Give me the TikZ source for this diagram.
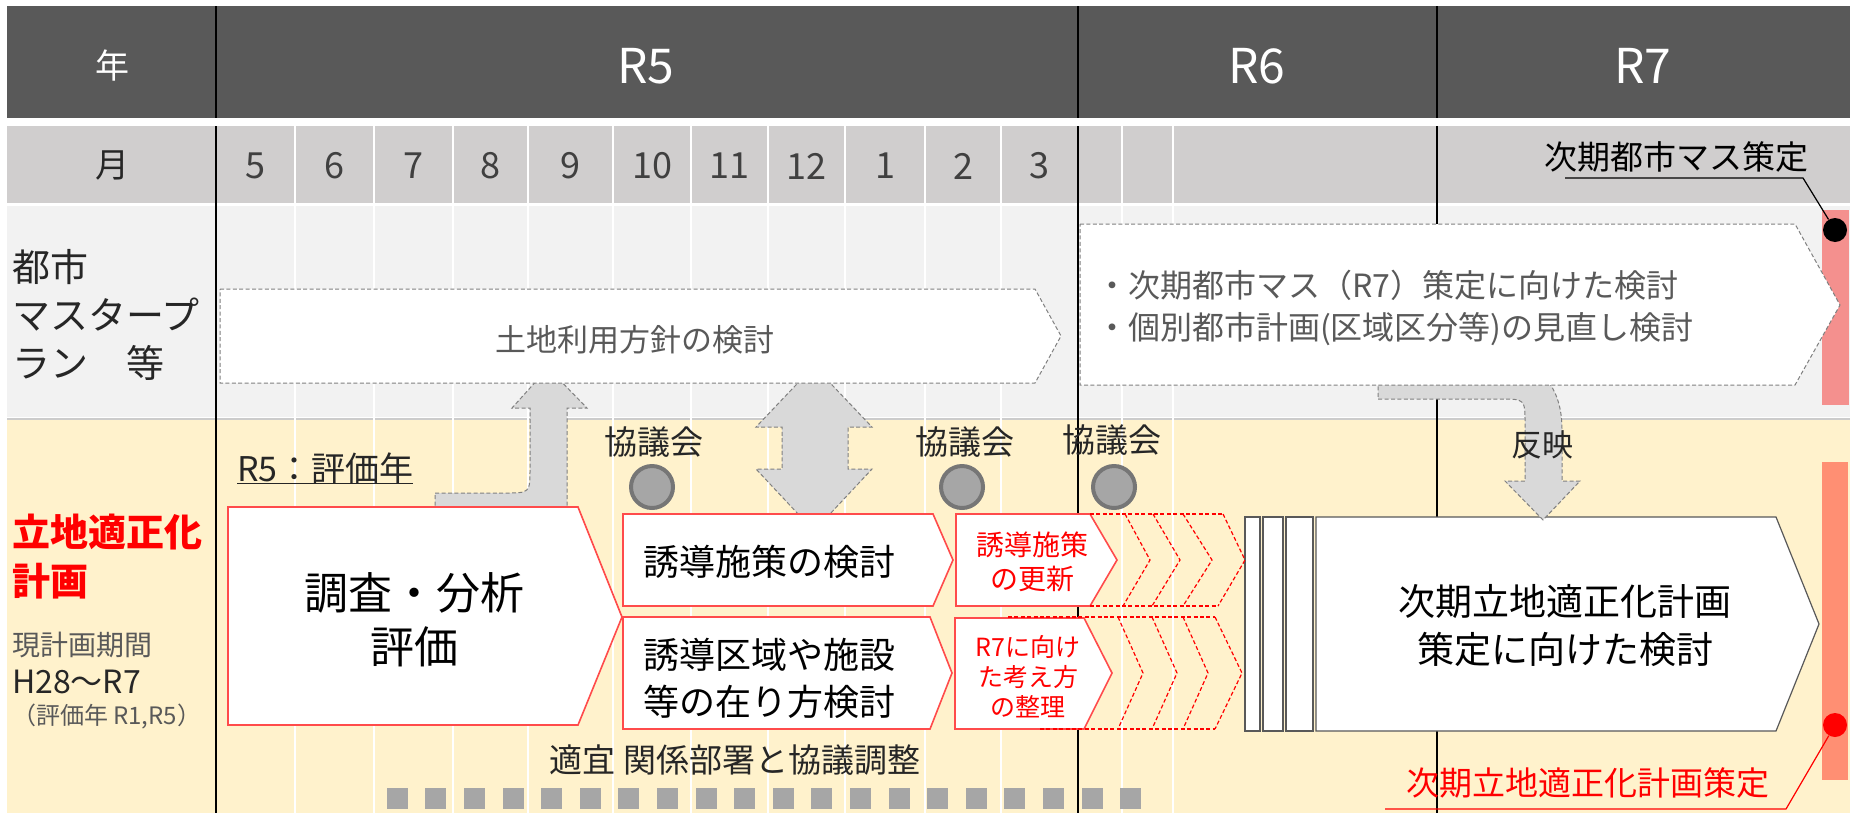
\documentclass[tikz,border=0pt]{standalone}
\usepackage{fontspec}
\setmainfont{Noto Sans CJK JP}
\definecolor{hdr}{HTML}{595959}
\definecolor{mon}{HTML}{D0CECE}
\definecolor{rowa}{HTML}{F2F2F2}
\definecolor{rowb}{HTML}{FFF2CC}
\definecolor{redline}{HTML}{FF4B4B}
\definecolor{arrowfill}{HTML}{D9D9D9}
\definecolor{arrowline}{HTML}{808080}
\definecolor{pinkbar}{HTML}{F4908E}
\definecolor{salmon}{HTML}{FF8F73}
\definecolor{txt}{HTML}{262626}
\definecolor{txtgray}{HTML}{595959}
\definecolor{sqgray}{HTML}{A6A6A6}
\definecolor{mtgfill}{HTML}{A6A6A6}
\definecolor{mtgline}{HTML}{767676}
\newcommand\fsz[2]{\fontsize{#1pt}{#2pt}\selectfont}
\begin{document}
\begin{tikzpicture}[x=0.5pt,y=-0.5pt,
  lbl/.style={inner sep=0pt, outer sep=0pt, text=txt},
  garrow/.style={fill=arrowfill, draw=arrowline, line width=0.5pt, dash pattern=on 2pt off 1.2pt},
  dbox/.style={fill=white, draw=arrowline, line width=0.5pt, dash pattern=on 2pt off 1.2pt},
  rbox/.style={fill=white, draw=redline, line width=0.8pt, line join=miter},
  rdash/.style={draw=red, line width=0.6pt, dash pattern=on 2pt off 1.2pt},
  gbox/.style={fill=white, draw=hdr, line width=0.6pt},
  mtg/.style={circle, fill=mtgfill, draw=mtgline, line width=2pt, minimum size=21pt, inner sep=0pt},
  callout/.style={circle, minimum size=12pt, inner sep=0pt},
  sep/.style={white, line width=1pt},
  year/.style={black, line width=1pt}
]
\useasboundingbox (0,0) rectangle (1855,815);
\fill[white] (0,0) rectangle (1855,815);
% rows
\fill[hdr] (7,6) rectangle (1850,118);
\fill[mon] (7,126) rectangle (1850,203);
\fill[rowa] (7,206) rectangle (1850,417);
\fill[rowb] (7,420) rectangle (1850,813);
\draw[black!20, line width=1pt] (7,418.5) -- (1850,418.5);
% month separators
\foreach \x in {295,374,452.5,528,613,691,768,845,925,1001,1122,1173}
  \draw[sep] (\x,126) -- (\x,813);
% year lines
\foreach \x in {216,1078,1437}{
  \draw[year] (\x,6) -- (\x,118);
  \draw[year] (\x,126) -- (\x,813);
}
% header texts
\node[lbl, text=white, font=\fsz{17}{20}] (hyear) at (112,66) {年};
\node[lbl, text=white, font=\fsz{24}{28}] (yr5) at (646,66) {R5};
\node[lbl, text=white, font=\fsz{24}{28}] (yr6) at (1257,66) {R6};
\node[lbl, text=white, font=\fsz{24}{28}] (yr7) at (1643,66) {R7};
\node[lbl, font=\fsz{17}{20}] (hmon) at (112,165) {月};
\foreach \x/\m/\n in {255.5/5/a,334.5/6/b,413/7/c,490/8/d,570.5/9/e,652/10/f,729.5/11/g,806.5/12/h,885/1/i,963/2/j,1039.5/3/k}
  \node[lbl, text=black!75, font=\fsz{18}{20}] (mon\n) at (\x,166) {\m};
% row 3 label
\node[lbl, anchor=west, align=left, font=\fsz{19}{24}] (cityplan) at (12,315) {都市\\マスタープ\\ラン　等};
% gray arrows
\draw[garrow] (435,512) -- (435,493) -- (505,493) .. controls (530,493) .. (530,468) -- (530,408) -- (512,408) -- (548,368) -- (587,408) -- (567,408) -- (567,512) -- cycle;
\draw[garrow] (814,366) -- (872,427) -- (848,427) -- (848,469) -- (872,469) -- (814,531) -- (756,469) -- (782,469) -- (782,427) -- (756,427) -- cycle;
% pink bar (top)
\fill[pinkbar] (1822,210) rectangle (1849,405);
% row 4 big pentagon (next plan) and thin rects
\draw[gbox] (1245,517) rectangle (1260,731);
\draw[gbox] (1263,517) rectangle (1283,731);
\draw[gbox] (1286,517) rectangle (1313,731);
\draw[gbox] (1316,517) -- (1776,517) -- (1819,624) -- (1776,731) -- (1316,731) -- cycle;
\node[lbl, align=center, text=black, font=\fsz{18.5}{24}] (nextplan) at (1565,626) {次期立地適正化計画\\策定に向けた検討};
% reflect arrow
\draw[garrow] (1378,380) -- (1378,399) -- (1500,399) .. controls (1525,399) .. (1525,424) -- (1525,481) -- (1505,481) -- (1543,520) -- (1580,481) -- (1562,481) -- (1562,430) .. controls (1562,405) and (1555,390) .. (1547,380) -- cycle;
\node[lbl, font=\fsz{15.5}{18}] (hanei) at (1542,445) {反映};
% row 3 boxes
\draw[dbox] (220,289) -- (1035,289) -- (1061,336) -- (1035,383) -- (220,383) -- cycle;
\node[lbl, text=txtgray, font=\fsz{15.5}{18}] (landuse) at (635,340) {土地利用方針の検討};
\draw[dbox] (1080,224) -- (1795,224) -- (1840,305) -- (1795,385) -- (1080,385) -- cycle;
\node[lbl, anchor=west, align=left, text=txtgray, font=\fsz{16}{21}] (nextmp) at (1096,308) {・次期都市マス（R7）策定に向けた検討\\・個別都市計画(区域区分等)の見直し検討};
% callout top
\coordinate (mk) at (1803,178);
\coordinate (mend) at (1565,178);
\node[callout, fill=black] (mdot) at (1835,230) {};
\draw[black, line width=0.6pt] (mdot) -- (mk) -- (mend);
\node[lbl, text=black, font=\fsz{16.5}{20}] (mlbl) at (1676,157) {次期都市マス策定};
% row 4 labels
\node[lbl, anchor=west, align=left, text=red, font=\bfseries\fsz{19}{24.5}] (rlabel) at (12,557) {立地適正化\\計画};
\node[lbl, anchor=west, text=txtgray, font=\fsz{14}{18}] (curperiod) at (12,645) {現計画期間};
\node[lbl, anchor=west, text=txt, font=\fsz{16}{18}] (h28) at (12,682) {H28〜R7};
\node[lbl, anchor=west, text=txtgray, font=\fsz{12}{14}] (hyoka) at (12,716) {（評価年 R1,R5）};
\node[lbl, anchor=west, font=\fsz{17}{20}] (r5hyoka) at (237,468) {R5：評価年};
\draw[txt, line width=0.6pt] (r5hyoka.south west) -- (r5hyoka.south east);
% meetings
\node[mtg] (mtg1) at (652,487) {};
\node[mtg] (mtg2) at (962,487) {};
\node[mtg] (mtg3) at (1114,487) {};
\node[lbl, font=\fsz{16.5}{20}] (kyo1) at (654,442) {協議会};
\node[lbl, font=\fsz{16.5}{20}] (kyo2) at (965,442) {協議会};
\node[lbl, font=\fsz{16.5}{20}] (kyo3) at (1112,440) {協議会};
% main pentagons
\draw[rbox] (228,507) -- (578,507) -- (622,617) -- (578,725) -- (228,725) -- cycle;
\node[lbl, align=center, text=black, font=\fsz{22}{27}] (survey) at (414,620) {調査・分析\\評価};
\draw[rbox] (623,514) -- (933,514) -- (953,560) -- (933,606) -- (623,606) -- cycle;
\node[lbl, anchor=west, text=black, font=\fsz{18}{20}] (yudo1) at (643,562) {誘導施策の検討};
\draw[rbox] (623,617) -- (930,617) -- (952,673) -- (930,729) -- (623,729) -- cycle;
\node[lbl, anchor=west, align=left, text=black, font=\fsz{18}{23.5}] (yudo2) at (643,678) {誘導区域や施設\\等の在り方検討};
% red small pentagons
\draw[rbox] (956,514) -- (1090,514) -- (1117,560) -- (1090,606) -- (956,606) -- cycle;
\node[lbl, align=center, text=red, font=\fsz{14}{17}] (update) at (1032,562) {誘導施策\\の更新};
\draw[rbox] (955,618) -- (1084,618) -- (1112,673) -- (1084,729) -- (955,729) -- cycle;
\node[lbl, align=center, text=red, font=\fsz{12.5}{15}] (arrange) at (1028,677) {R7に向け\\た考え方\\の整理};
% dashed chevrons (upper)
\draw[rdash] (1090,514) -- (1223,514);
\draw[rdash] (1090,606) -- (1218,606);
\draw[rdash] (1125,514) -- (1150,560) -- (1123,606);
\draw[rdash] (1153,514) -- (1180,560) -- (1152,606);
\draw[rdash] (1183,514) -- (1212,560) -- (1183,606);
\draw[rdash] (1223,514) -- (1245,560) -- (1218,606);
% dashed chevrons (lower)
\draw[rdash] (1008,617) -- (1215,617);
\draw[rdash] (1040,729) -- (1215,729);
\draw[rdash] (1118,617) -- (1143,673) -- (1118,729);
\draw[rdash] (1152,617) -- (1177,673) -- (1152,729);
\draw[rdash] (1183,617) -- (1208,673) -- (1183,729);
\draw[rdash] (1215,617) -- (1242,673) -- (1215,729);
% salmon bar and callout bottom
\fill[salmon] (1822,462) rectangle (1848,780);
\coordinate (rk) at (1786,809);
\coordinate (rend) at (1385,809);
\node[callout, fill=red] (rdot) at (1835,725) {};
\draw[red, line width=0.6pt] (rdot) -- (rk) -- (rend);
\node[lbl, text=red, font=\fsz{16.5}{20}] (rlbl) at (1588,783) {次期立地適正化計画策定};
% coordination
\node[lbl, font=\fsz{16.5}{20}] (tekigi) at (735,760) {適宜 関係部署と協議調整};
\foreach \i in {0,...,19}
  \fill[sqgray] ({386.8+38.6*\i},788) rectangle ++(21,21);
\end{tikzpicture}
\end{document}
